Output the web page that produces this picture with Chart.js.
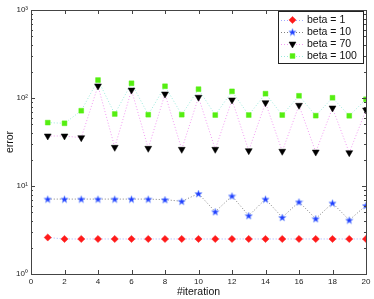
<!DOCTYPE html>
<html><head><meta charset="utf-8">
<script src="https://cdn.jsdelivr.net/npm/chart.js@4.4.1/dist/chart.umd.min.js"></script>
<style>html,body{margin:0;padding:0;background:#fff}#wrap{width:374px;height:299px}</style>
</head><body><div id="wrap"><canvas id="c" width="374" height="299"></canvas></div>
<script>
const iterations = [1,2,3,4,5,6,7,8,9,10,11,12,13,14,15,16,17,18,19,20];
const seriesLabels = ['beta = 1','beta = 10','beta = 70','beta = 100'];
const beta1   = [2.6,2.5,2.5,2.5,2.5,2.5,2.5,2.5,2.5,2.5,2.5,2.5,2.5,2.5,2.5,2.5,2.5,2.5,2.5,2.5];
const beta10  = [7.1,7.1,7.1,7.1,7.1,7.1,7.1,7.0,6.7,8.2,5.1,7.7,4.6,7.1,4.4,6.6,4.25,6.4,4.1,6.0];
const beta70  = [37,37,35.4,137,27.5,123,26.8,111,26.1,102,26.1,95,25.2,88.5,24.8,82.6,24.3,77,23.9,73];
const beta100 = [52.5,51.6,71.7,160,65.8,147,64.6,136,64.6,126,64,119,64,112,64,106,63,100.7,62.8,96.7];
const xTicks = [0,2,4,6,8,10,12,14,16,18,20];
const yTicks = [1,10,100,1000];
const yTickLabels = ['10\u2070','10\u00B9','10\u00B2','10\u00B3'];

function starImage(){
  const c = document.createElement('canvas'); c.width = 9; c.height = 9;
  const g = c.getContext('2d');
  g.beginPath();
  for (let i = 0; i < 10; i++) {
    const r = i % 2 === 0 ? 3.9 : 1.6;
    const a = -Math.PI/2 + i*Math.PI/5;
    const px = 4.5 + r*Math.cos(a), py = 4.9 + r*Math.sin(a);
    if (i === 0) g.moveTo(px, py); else g.lineTo(px, py);
  }
  g.closePath();
  g.fillStyle = '#1f3dff'; g.fill();
  g.strokeStyle = 'rgba(130,160,255,0.8)'; g.lineWidth = 0.7; g.stroke();
  return c;
}
const star = starImage();

const pts = arr => arr.map((v,i) => ({x: iterations[i], y: v}));

const datasets = [
  {label: seriesLabels[0], data: pts(beta1), borderColor: '#a3adff', pointStyle: 'rectRot', pointRadius: 3.6,
   pointBackgroundColor: '#ff1a1a', pointBorderColor: '#ff1a1a'},
  {label: seriesLabels[1], data: pts(beta10), borderColor: '#808080', pointStyle: star, pointRadius: 4,
   pointBackgroundColor: '#1f3dff', pointBorderColor: '#1f3dff'},
  {label: seriesLabels[2], data: pts(beta70), borderColor: '#f29af2', pointStyle: 'triangle', pointRotation: 180, pointRadius: 4,
   pointBackgroundColor: '#000000', pointBorderColor: '#000000'},
  {label: seriesLabels[3], data: pts(beta100), borderColor: '#9aeadc', pointStyle: 'rect', pointRadius: 3.4,
   pointBackgroundColor: '#55ee11', pointBorderColor: '#55ee11'}
].map(d => Object.assign({borderWidth: 1, borderDash: [1,2], pointBorderWidth: 0.5, tension: 0, fill: false}, d));

const axesPlugin = {
  id: 'axesBox',
  afterDatasetsDraw(chart) {
    const ctx = chart.ctx, a = chart.chartArea, xs = chart.scales.x, ys = chart.scales.y;
    ctx.save();
    ctx.strokeStyle = '#444'; ctx.lineWidth = 1;
    ctx.strokeRect(Math.round(a.left)+0.5, Math.round(a.top)+0.5, Math.round(a.right-a.left), Math.round(a.bottom-a.top));
    ctx.beginPath();
    xTicks.forEach(v => {
      const px = Math.round(xs.getPixelForValue(v)) + 0.5;
      ctx.moveTo(px, a.bottom); ctx.lineTo(px, a.bottom - 4);
      ctx.moveTo(px, a.top); ctx.lineTo(px, a.top + 4);
    });
    for (let d = 0; d < 3; d++) {
      for (let m = 1; m <= 10; m++) {
        const v = m * Math.pow(10, d);
        const py = Math.round(ys.getPixelForValue(v)) + 0.5;
        const len = (m === 1 || m === 10) ? 4 : 2;
        ctx.moveTo(a.left, py); ctx.lineTo(a.left + len, py);
        ctx.moveTo(a.right, py); ctx.lineTo(a.right - len, py);
      }
    }
    ctx.stroke();

    // legend
    const bx = 278, by = 11, bw = 85, bh = 52;
    ctx.fillStyle = '#fff'; ctx.fillRect(bx, by, bw, bh);
    ctx.strokeStyle = '#222'; ctx.lineWidth = 1;
    ctx.strokeRect(bx + 0.5, by + 0.5, bw, bh);
    ctx.font = '10.5px "Liberation Sans", Arial, sans-serif';
    ctx.textBaseline = 'middle'; ctx.textAlign = 'left';
    chart.data.datasets.forEach((ds, i) => {
      const y = 20 + i * 12;
      ctx.save();
      ctx.strokeStyle = ds.borderColor; ctx.lineWidth = 1; ctx.setLineDash([1,2]);
      ctx.beginPath(); ctx.moveTo(281, y + 0.5); ctx.lineTo(303, y + 0.5); ctx.stroke();
      ctx.restore();
      ctx.save();
      ctx.fillStyle = ds.pointBackgroundColor; ctx.strokeStyle = ds.pointBorderColor; ctx.lineWidth = 0.5;
      Chart.helpers.drawPoint(ctx, {pointStyle: ds.pointStyle, rotation: ds.pointRotation || 0,
        radius: ds.pointRadius, borderWidth: 0.5}, 292.5, y);
      ctx.restore();
      ctx.fillStyle = '#111';
      ctx.fillText(ds.label, 307, y + 0.5);
    });
    ctx.restore();
  }
};

new Chart(document.getElementById('c'), {
  type: 'line',
  data: {datasets},
  options: {
    responsive: false, animation: false, devicePixelRatio: 1,
    layout: {padding: {left: 0, right: 8, top: 10, bottom: 0}},
    plugins: {legend: {display: false}, tooltip: {enabled: false}},
    scales: {
      x: {
        type: 'linear', min: 0, max: 20,
        afterBuildTicks: s => { s.ticks = xTicks.map(v => ({value: v})); },
        afterFit: s => { s.height = 25; },
        grid: {display: false, drawTicks: false, tickLength: 0}, border: {display: false},
        ticks: {color: '#222', font: {size: 8, family: '"Liberation Sans", Arial, sans-serif'}, padding: 3, maxRotation: 0},
        title: {display: true, text: '#iteration', color: '#111', padding: {top: 0, bottom: 1},
                font: {size: 10.5, family: '"Liberation Sans", Arial, sans-serif'}}
      },
      y: {
        type: 'logarithmic', min: 1, max: 1000,
        afterBuildTicks: s => { s.ticks = yTicks.map(v => ({value: v})); },
        afterFit: s => { s.width = 31; },
        grid: {display: false, drawTicks: false, tickLength: 0}, border: {display: false},
        ticks: {color: '#222', font: {size: 8, family: '"Liberation Sans", Arial, sans-serif'}, padding: 3,
                callback: v => yTickLabels[yTicks.indexOf(v)]},
        title: {display: true, text: 'error', color: '#111', padding: {top: 4, bottom: 0},
                font: {size: 10.5, family: '"Liberation Sans", Arial, sans-serif'}}
      }
    }
  },
  plugins: [axesPlugin]
});
</script>
</body></html>
